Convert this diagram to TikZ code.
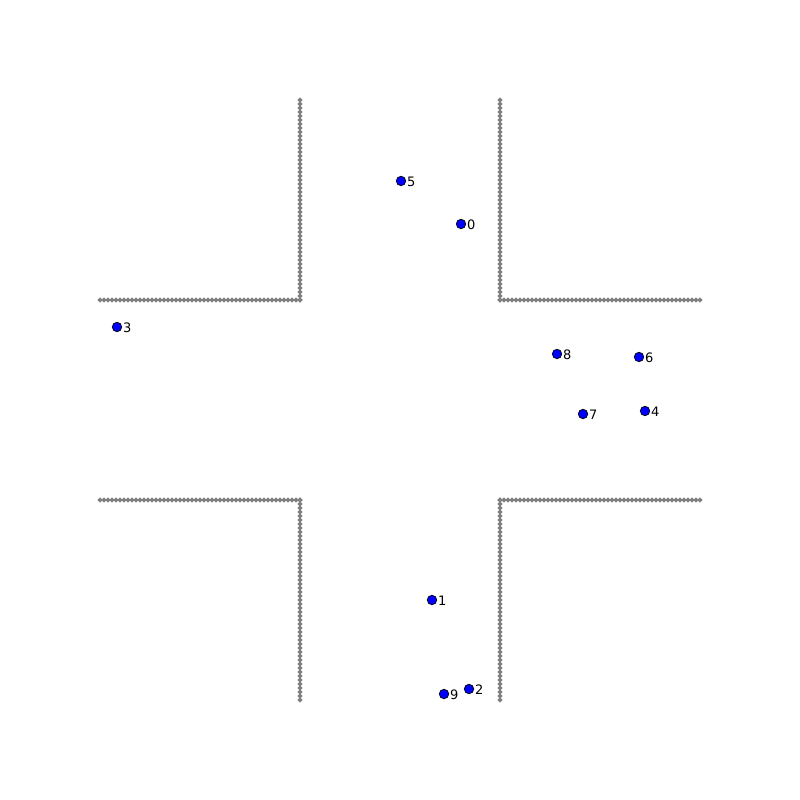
\documentclass[tikz,border=0pt]{standalone}
\usepackage{fontspec}
\setmainfont{DejaVu Sans}
\newcommand{\wallpt}[2]{\fill[wallgray] ({#1},{#2}) +(-0.026,0) -- +(0,0.026) -- +(0.026,0) -- +(0,-0.026) -- cycle;}
\definecolor{wallgray}{HTML}{808080}
\begin{document}
\begin{tikzpicture}[
  agent/.style={circle, fill=blue, draw=black, line width=0.2pt, inner sep=0pt, minimum size=0.095cm},
  tag/.style={font=\fontsize{3.7}{4}\selectfont, inner sep=0.1pt, yshift=-0.2pt},
  label distance=0pt]
\useasboundingbox (0,0) rectangle (8,8);
% walls of the crossing
\foreach \xa/\ya/\xb/\yb in {1/5/3/5, 3/5/3/7, 5/5/5/7, 5/5/7/5, 1/3/3/3, 3/3/3/1, 5/3/5/1, 5/3/7/3}
  \foreach \k in {0,...,50}
    \wallpt{\xa+(\xb-\xa)*\k/50}{\ya+(\yb-\ya)*\k/50};
% agents
\node[agent, label={[tag]right:0}] (a0) at (4.61,5.76) {};
\node[agent, label={[tag]right:1}] (a1) at (4.32,2.00) {};
\node[agent, label={[tag]right:2}] (a2) at (4.69,1.11) {};
\node[agent, label={[tag]right:3}] (a3) at (1.17,4.73) {};
\node[agent, label={[tag]right:4}] (a4) at (6.45,3.89) {};
\node[agent, label={[tag]right:5}] (a5) at (4.01,6.19) {};
\node[agent, label={[tag]right:6}] (a6) at (6.39,4.43) {};
\node[agent, label={[tag]right:7}] (a7) at (5.83,3.86) {};
\node[agent, label={[tag]right:8}] (a8) at (5.57,4.46) {};
\node[agent, label={[tag]right:9}] (a9) at (4.44,1.06) {};
\end{tikzpicture}
\end{document}
